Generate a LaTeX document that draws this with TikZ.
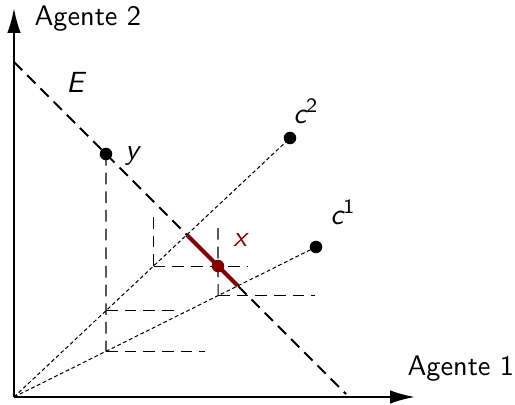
\documentclass[tikz,border=0pt]{standalone}
\usepackage{tikz}
\usetikzlibrary{arrows.meta,calc,positioning}
\renewcommand{\familydefault}{\sfdefault}
\definecolor{darkred}{RGB}{128,0,0}

\begin{document}
\begin{tikzpicture}[x=0.343pt,y=0.343pt,>={Latex[length=8.5pt,width=4.6pt]},
  axis/.style={->,line width=0.75pt},
  budget/.style={line width=0.7pt,dash pattern=on 4pt off 2.4pt},
  ray/.style={line width=0.35pt,dash pattern=on 1.3pt off 0.9pt},
  guide/.style={line width=0.35pt,dash pattern=on 4pt off 2.4pt},
  dot/.style={circle,fill,inner sep=0pt,minimum size=4.3pt},
  axlbl/.style={right,inner sep=0pt,font=\fontsize{9.7pt}{11pt}\selectfont},
  lbl/.style={font=\itshape}]
  \useasboundingbox (-14,-7) rectangle (501,397);
  % axes
  \coordinate (O) at (0,0);
  \coordinate (ytip) at (0,389);
  \coordinate (xtip) at (401,0);
  \draw[axis] (O) -- (ytip);
  \draw[axis] (O) -- (xtip);
  \node[axlbl] (ag2) at (20,378) {Agente 2};
  \node[axlbl] (ag1) at (393,28) {Agente 1};
  % line E
  \coordinate (E1) at (0,335);
  \coordinate (E2) at (332,3);
  \node[lbl] (Elbl) at (61,315) {E};
  % rays to c1, c2
  \coordinate (c2) at (276,259);
  \coordinate (c1) at (302,150);
  \coordinate (ypt) at (92,243);
  \coordinate (xpt) at (204,131);
  \coordinate (A) at (intersection of O--c2 and E1--E2);
  \coordinate (B) at (intersection of O--c1 and E1--E2);
  % split of y
  \coordinate (yb) at (ypt |- O);
  \coordinate (ya) at (intersection of O--c2 and ypt--yb);
  \coordinate (yc) at (intersection of O--c1 and ypt--yb);
  \draw[guide] (ypt) -- (yc);
  \draw[guide] (ya) -- (166,0 |- ya);
  \draw[guide] (yc) -- (191,0 |- yc);
  % split of x
  \coordinate (xl) at (xpt -| O);
  \coordinate (xb) at (xpt |- O);
  \coordinate (xa) at (intersection of O--c2 and xpt--xl);
  \coordinate (xc) at (intersection of O--c1 and xpt--xb);
  \draw[guide] (xa) -- ++(0,55);
  \draw[guide] (xa) -- (234,0 |- xa);
  \draw[guide] (xc) -- (204,173);
  \draw[guide] (xc) -- (301,0 |- xc);
  \draw[ray] (O) -- (c2);
  \draw[ray] (O) -- (c1);
  \draw[budget] (E1) -- (E2);
  \draw[darkred,line width=1.4pt] (A) -- (B);
  % points
  \node[dot] (ydot) at (ypt) {};
  \node[lbl] (ylbl) at (118,241) {y};
  \node[dot] (c2dot) at (c2) {};
  \node[dot] (c1dot) at (c1) {};
  \node[lbl] (c2lbl) at (292,286) {c\textsuperscript{\upshape 2}};
  \node[lbl] (c1lbl) at (329,185) {c\textsuperscript{\upshape 1}};
  \node[dot,darkred] (xdot) at (xpt) {};
  \node[lbl,darkred] (xlbl) at (226,157) {x};
\end{tikzpicture}
\end{document}
